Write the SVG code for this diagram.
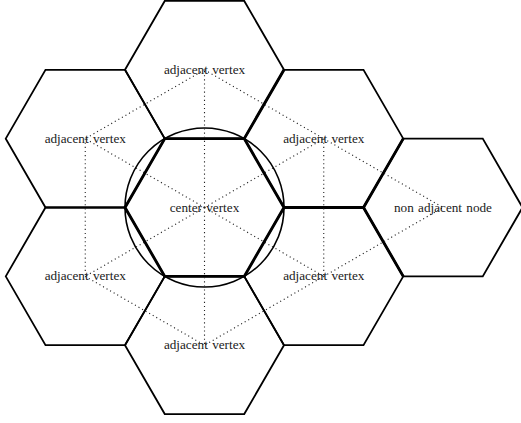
<svg xmlns="http://www.w3.org/2000/svg" width="521" height="423" viewBox="0 0 521 423">
<style>
.hex{fill:none;stroke:#000;stroke-width:1.8;stroke-linejoin:miter}
.thick{fill:none;stroke:#000;stroke-width:2.9;stroke-linejoin:miter}
.ring{fill:none;stroke:#000;stroke-width:1.6}
.dot{stroke:#222;stroke-width:1.1;stroke-dasharray:1.1 3;fill:none}
.lbl{font-family:"Liberation Serif","Times New Roman",serif;font-size:13.2px;fill:#1a1a1a;text-anchor:middle;word-spacing:1px}
</style>
<rect width="521" height="423" fill="#fff"/>
<g id="node-top">
<polygon class="hex" points="125,69.8 164.75,0.95 244.25,0.95 284,69.8 244.25,138.65 164.75,138.65"/>
</g>
<g id="node-upper-left">
<polygon class="hex" points="5.75,138.65 45.5,69.8 125,69.8 164.75,138.65 125,207.5 45.5,207.5"/>
</g>
<g id="node-lower-left">
<polygon class="hex" points="5.75,276.35 45.5,207.5 125,207.5 164.75,276.35 125,345.2 45.5,345.2"/>
</g>
<g id="node-upper-right">
<polygon class="hex" points="244.25,138.65 284,69.8 363.5,69.8 403.25,138.65 363.5,207.5 284,207.5"/>
<path class="thick" d="M284,69.8 L244.25,138.65 M284,207.5 L363.5,207.5"/>
</g>
<g id="node-lower-right">
<polygon class="hex" points="244.25,276.35 284,207.5 363.5,207.5 403.25,276.35 363.5,345.2 284,345.2"/>
</g>
<g id="node-bottom">
<polygon class="hex" points="125,345.2 164.75,276.35 244.25,276.35 284,345.2 244.25,414.05 164.75,414.05"/>
</g>
<g id="node-non-adjacent">
<polygon class="hex" points="363.5,207.5 403.25,138.65 482.75,138.65 522.5,207.5 482.75,276.35 403.25,276.35"/>
<path class="thick" d="M403.25,138.65 L363.5,207.5 L403.25,276.35"/>
</g>
<g id="node-center">
<polygon class="thick" points="125,207.5 164.75,138.65 244.25,138.65 284,207.5 244.25,276.35 164.75,276.35"/>
<circle class="ring" cx="204.5" cy="207.5" r="79.5"/>
</g>
<g id="connectors">
<line class="dot" x1="204.5" y1="207.5" x2="204.5" y2="69.8"/>
<line class="dot" x1="204.5" y1="207.5" x2="204.5" y2="345.2"/>
<line class="dot" x1="204.5" y1="207.5" x2="85.25" y2="138.65"/>
<line class="dot" x1="204.5" y1="207.5" x2="85.25" y2="276.35"/>
<line class="dot" x1="204.5" y1="207.5" x2="323.75" y2="138.65"/>
<line class="dot" x1="204.5" y1="207.5" x2="323.75" y2="276.35"/>
<line class="dot" x1="204.5" y1="69.8" x2="85.25" y2="138.65"/>
<line class="dot" x1="204.5" y1="69.8" x2="323.75" y2="138.65"/>
<line class="dot" x1="85.25" y1="138.65" x2="85.25" y2="276.35"/>
<line class="dot" x1="323.75" y1="138.65" x2="323.75" y2="276.35"/>
<line class="dot" x1="85.25" y1="276.35" x2="204.5" y2="345.2"/>
<line class="dot" x1="323.75" y1="276.35" x2="204.5" y2="345.2"/>
<line class="dot" x1="323.75" y1="138.65" x2="443" y2="207.5"/>
<line class="dot" x1="323.75" y1="276.35" x2="443" y2="207.5"/>
</g>
<g id="labels">
<text class="lbl" x="204.5" y="73.8">adjacent vertex</text>
<text class="lbl" x="85.25" y="142.6">adjacent vertex</text>
<text class="lbl" x="323.75" y="142.6">adjacent vertex</text>
<text class="lbl" x="204.5" y="211.5">center vertex</text>
<text class="lbl" x="443" y="211.5">non adjacent node</text>
<text class="lbl" x="85.25" y="280.3">adjacent vertex</text>
<text class="lbl" x="323.75" y="280.3">adjacent vertex</text>
<text class="lbl" x="204.5" y="349.2">adjacent vertex</text>
</g>
</svg>
